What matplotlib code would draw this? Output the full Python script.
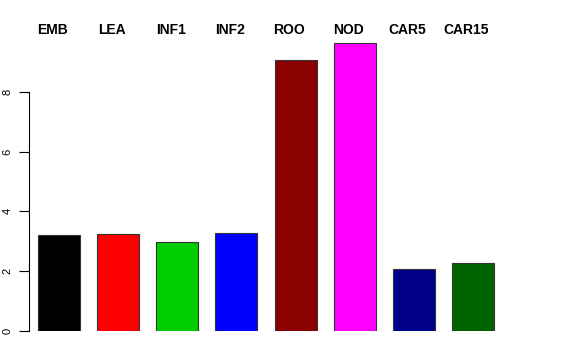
import numpy as np
from matplotlib import pyplot as plt
from matplotlib import transforms

# dados
grupos = ['EMB', 'LEA', 'INF1', 'INF2', 'ROO', 'NOD', 'CAR5', 'CAR15']
valores = [3.22, 3.23, 2.97, 3.28, 9.08, 9.63, 2.09, 2.27]
cores = ['black', 'red', '#00CD00', 'blue', '#8B0000', 'magenta', '#00008B', '#006400']

fig = plt.figure(figsize=(5.76, 3.6), dpi=100)
ax = fig.add_axes([29/576, 29/360, 474/576, 299/360])

x = np.arange(len(grupos))
ax.bar(x, valores, width=0.71, color=cores, edgecolor='#333333', linewidth=0.8)

ax.set_xlim(-0.507, 7.507)
ax.set_ylim(0, 10)

# só o eixo y, de 0 a 8
for s in ['top', 'right', 'bottom']:
    ax.spines[s].set_visible(False)
ax.spines['left'].set_bounds(0, 8)
ax.spines['left'].set_linewidth(0.8)
ax.set_xticks([])
ax.set_yticks([0, 2, 4, 6, 8])
ax.set_yticklabels(['0', '2', '4', '6', '8'], rotation=90, va='center',
                   fontsize=8, family='Liberation Sans')
ax.tick_params(axis='y', length=7, width=0.8, pad=5)

# rótulos no topo
trans = transforms.blended_transform_factory(ax.transData, fig.transFigure)
for i, g in enumerate(grupos):
    ax.text(i - 0.11, 1 - 30/360, g, transform=trans, ha='center', va='center',
            fontsize=10, fontweight='bold', family='Liberation Sans', clip_on=False)

plt.savefig('out.png', dpi=100)
